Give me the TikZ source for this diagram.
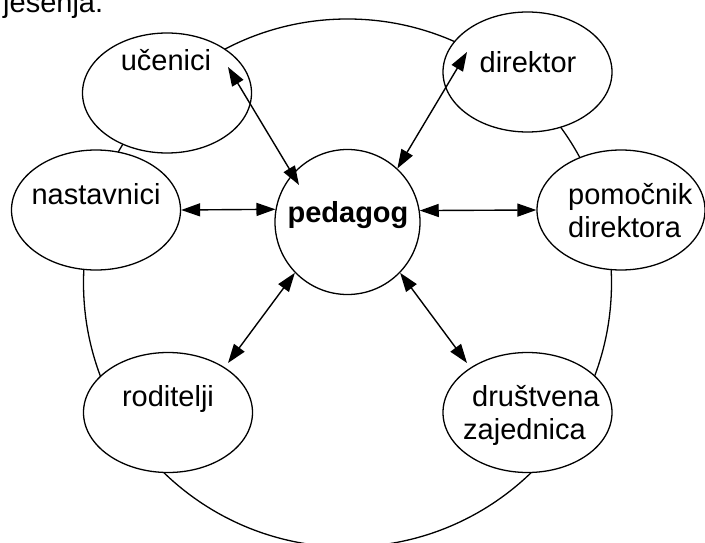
\documentclass[tikz,border=0pt]{standalone}
\usepackage{fontspec}
\setmainfont{Liberation Sans}
\usetikzlibrary{shapes.geometric,arrows.meta}
\begin{document}
\begin{tikzpicture}[x=1pt,y=-1pt,
  shp/.style={draw=black, fill=white, line width=1.3pt, inner sep=0pt},
  oval/.style={shp, ellipse, minimum width=169pt, minimum height=120pt},
  lbl/.style={inner sep=0pt, font=\fontsize{29}{33}\selectfont},
  arr/.style={line width=1.4pt, {Triangle[length=19pt,width=13pt]}-{Triangle[length=19pt,width=13pt]}}]
\useasboundingbox (0,0) rectangle (705,543);
\clip (0,0) rectangle (705,543);
% fragment of text above
\node[lbl, anchor=base west] (frag) at (3,13) {jesenja.};
% big ring
\node[shp, circle, fill=none, minimum size=528pt] (ring) at (347.5,283) {};
% outer ellipses
\node[oval] (u) at (167,93) {};
\node[oval] (d) at (527.5,72) {};
\node[oval] (n) at (96,210) {};
\node[oval, minimum width=168pt] (p) at (621,210) {};
\node[oval] (r) at (168,412.5) {};
\node[oval] (z) at (527.5,412.5) {};
% centre circle
\node[shp, circle, minimum size=145pt] (ped) at (347.5,222) {};
% labels
\node[lbl, anchor=base] (ut) at (166,71) {učenici};
\node[lbl, anchor=base] (dt) at (528,73) {direktor};
\node[lbl, anchor=base] (nt) at (96,204) {nastavnici};
\node[lbl, anchor=base west] (pt1) at (568,204) {pomočnik};
\node[lbl, anchor=base west] (pt2) at (568,237) {direktora};
\node[lbl, anchor=base] (rt) at (168,406) {roditelji};
\node[lbl, anchor=base west] (zt1) at (472,406) {društvena};
\node[lbl, anchor=base west] (zt2) at (463,439) {zajednica};
\node[lbl, anchor=base, font=\fontsize{29}{33}\selectfont\bfseries] (pt) at (348,222) {pedagog};
% arrow ends inside the outer ellipses
\coordinate (u-e) at (228,67);
\coordinate (ped-u) at (299,185);
\coordinate (d-e) at (467,52);
\coordinate (r-e) at (228,363);
\coordinate (z-e) at (467,363);
% connectors
\draw[arr] (u-e) -- (ped-u);
\draw[arr] (d-e) -- (ped.47.5);
\draw[arr] (n.east) -- (ped.170.4);
\draw[arr] (ped.9.6) -- (p.west);
\draw[arr] (r-e) -- (ped.224);
\draw[arr] (z-e) -- (ped.316.5);
\end{tikzpicture}
\end{document}
